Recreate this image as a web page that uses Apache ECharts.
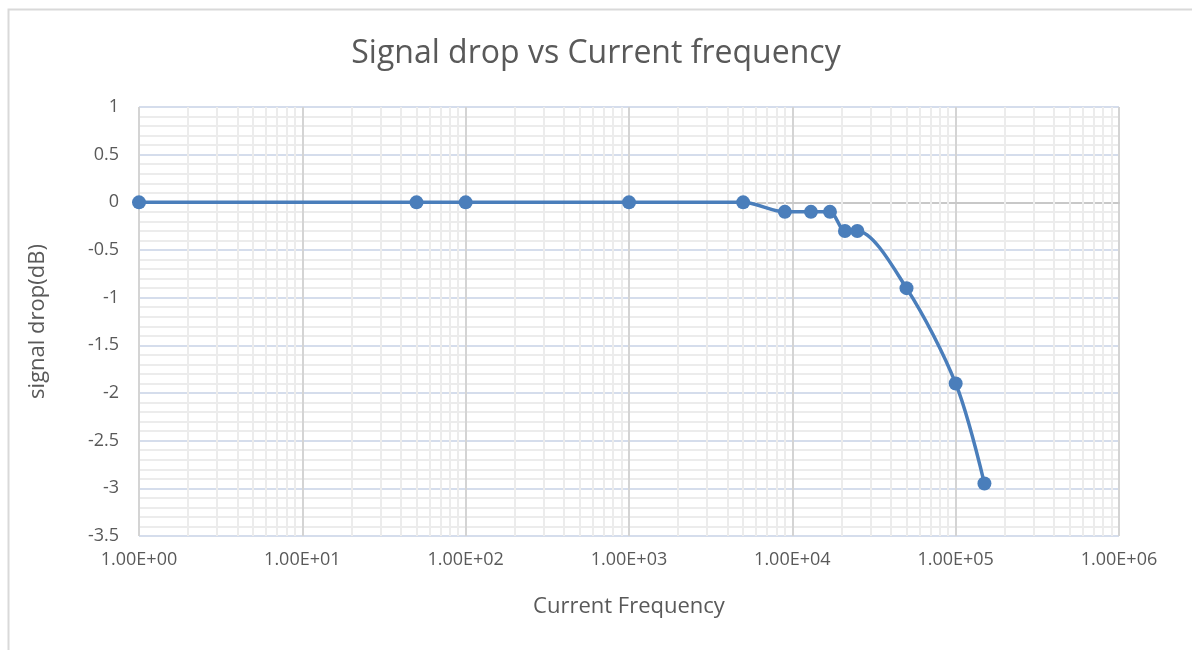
<!DOCTYPE html>
<html>
<head>
<meta charset="utf-8">
<script src="https://cdn.jsdelivr.net/npm/echarts@6/dist/echarts.min.js"></script>
<style>
  html, body { margin: 0; padding: 0; background: #fff; }
  #chart { width: 1192px; height: 650px; }
</style>
</head>
<body>
<div id="chart"></div>
<script>
// frequency (Hz) and measured drop (dB)
const freqs = [1, 50, 100, 1000, 5000, 9000, 13000, 17000, 21000, 25000, 50000, 100000, 150000]
const drops = [0, 0, 0, 0, 0, -0.1, -0.1, -0.1, -0.3, -0.3, -0.9, -1.9, -2.95]
const decades = [1, 10, 100, 1000, 10000, 100000]

const textColor = '#595959'
const font = '"Open Sans", "Noto Sans", sans-serif'

// minor grid lines of the log axis (2..9 of each decade)
const minorX = []
decades.forEach(d => {
  for (let k = 2; k <= 9; k++) minorX.push({ xAxis: d * k })
})

function sci(v) {
  const e = Math.round(Math.log10(v))
  const m = v / Math.pow(10, e)
  return m.toFixed(2) + 'E' + (e < 0 ? '-' : '+') + String(Math.abs(e)).padStart(2, '0')
}

const chart = echarts.init(document.getElementById('chart'))
chart.setOption({
  animation: false,
  title: {
    text: 'Signal drop vs Current frequency',
    left: 'center',
    top: 33,
    textStyle: { fontFamily: font, fontSize: 32, fontWeight: 'normal', color: textColor }
  },
  graphic: [{
    type: 'rect',
    left: 6, top: 7,
    shape: { width: 1300, height: 800 },
    style: { fill: 'none', stroke: '#d9d9d9', lineWidth: 2 },
    silent: true
  }],
  grid: { left: 139, right: 73, top: 107, bottom: 114 },
  xAxis: {
    type: 'log',
    logBase: 10,
    min: 1,
    max: 1000000,
    name: 'Current Frequency',
    nameLocation: 'middle',
    nameGap: 60,
    nameTextStyle: { fontFamily: font, fontSize: 22, color: textColor },
    axisLine: { show: true, lineStyle: { color: '#c8c8c8', width: 2 } },
    axisTick: { show: false },
    axisLabel: { fontFamily: font, fontSize: 18, color: textColor, margin: 15, formatter: v => sci(v) },
    splitLine: { show: true, lineStyle: { color: '#d4d4d4', width: 2 } }
  },
  yAxis: {
    type: 'value',
    min: -3.5,
    max: 1,
    interval: 0.5,
    name: 'signal drop(dB)',
    nameLocation: 'middle',
    nameGap: 90,
    nameTextStyle: { fontFamily: font, fontSize: 22, color: textColor },
    axisLine: { show: false },
    axisTick: { show: false },
    axisLabel: { fontFamily: font, fontSize: 18, color: textColor, margin: 20,
      formatter: v => String(v) },
    splitLine: { show: true, lineStyle: { color: '#d5ddec', width: 2 } },
    minorTick: { show: false, splitNumber: 5 },
    minorSplitLine: { show: true, lineStyle: { color: '#ececec', width: 2 } }
  },
  series: [{
    type: 'line',
    z: 1,
    data: [],
    silent: true,
    markLine: {
      z: 1,
      silent: true,
      symbol: 'none',
      label: { show: false },
      lineStyle: { color: '#ececec', width: 2, type: 'solid' },
      data: minorX
    }
  }, {
    type: 'line',
    z: 3,
    data: freqs.map((f, i) => [f, drops[i]]),
    smooth: 0.3,
    symbol: 'circle',
    symbolSize: 14,
    lineStyle: { color: '#4a7ebb', width: 3.5 },
    itemStyle: { color: '#4a7ebb' }
  }]
})
</script>
</body>
</html>
